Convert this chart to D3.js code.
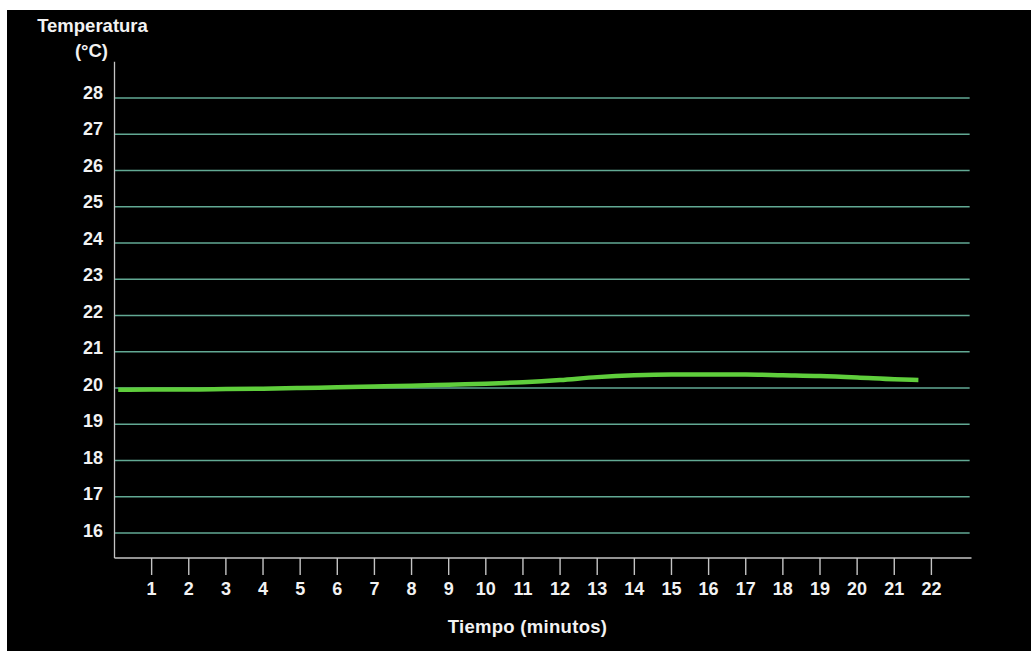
<!DOCTYPE html>
<html>
<head>
<meta charset="utf-8">
<script src="https://cdn.jsdelivr.net/npm/d3@7"></script>
<style>
  html, body { margin: 0; padding: 0; background: #ffffff; }
  svg { display: block; }
  text { font-family: "Liberation Sans", Arial, sans-serif; font-weight: bold; fill: #f2f2f2; }
</style>
</head>
<body>
<svg id="chart" width="1031" height="651"></svg>
<script>
// ---- data ----
const minutes = [0.1, 1, 2, 3, 4, 5, 6, 7, 8, 9, 10, 11, 12, 13, 14, 15, 16, 17, 18, 19, 20, 21, 21.65];
const temperatures = [19.95, 19.96, 19.96, 19.97, 19.98, 20.0, 20.02, 20.04, 20.06, 20.09, 20.12, 20.16, 20.22, 20.3, 20.35, 20.37, 20.37, 20.37, 20.35, 20.33, 20.29, 20.24, 20.22];
const xTickValues = [1, 2, 3, 4, 5, 6, 7, 8, 9, 10, 11, 12, 13, 14, 15, 16, 17, 18, 19, 20, 21, 22];
const yTickValues = [16, 17, 18, 19, 20, 21, 22, 23, 24, 25, 26, 27, 28];
const yTitleLines = ["Temperatura", "(°C)"];
const xTitle = "Tiempo (minutos)";

const svg = d3.select("#chart");

// black panel
svg.append("rect").attr("x", 7).attr("y", 10).attr("width", 1024).attr("height", 641).attr("fill", "#000");

const x = d3.scaleLinear().domain([0, 23.08]).range([114.5, 971.5]);
const y = d3.scaleLinear().domain([16, 28]).range([533, 98]);
// labels sit slightly offset from the gridlines
const yLabel = d3.scaleLinear().domain([16, 28]).range([530, 92]);

const xAxisY = y(15.31);
const yAxisTop = y(29);

// gridlines
svg.append("g").selectAll("line").data(yTickValues).join("line")
  .attr("x1", x(0)).attr("x2", x(23.03))
  .attr("y1", d => y(d)).attr("y2", d => y(d))
  .attr("stroke", "#62a994").attr("stroke-width", 1.6);

// y axis line
svg.append("line")
  .attr("x1", x(0)).attr("x2", x(0))
  .attr("y1", yAxisTop).attr("y2", xAxisY)
  .attr("stroke", "#c4c4c4").attr("stroke-width", 1.3);

// x axis line
svg.append("line")
  .attr("x1", x(0)).attr("x2", x(23.08))
  .attr("y1", xAxisY).attr("y2", xAxisY)
  .attr("stroke", "#c4c4c4").attr("stroke-width", 1.6);

// x ticks
svg.append("g").selectAll("line").data(xTickValues).join("line")
  .attr("x1", d => x(d)).attr("x2", d => x(d))
  .attr("y1", xAxisY).attr("y2", xAxisY + 17)
  .attr("stroke", "#c4c4c4").attr("stroke-width", 1.4);

svg.append("g").selectAll("text").data(xTickValues).join("text")
  .attr("x", d => x(d)).attr("y", 595)
  .attr("text-anchor", "middle")
  .attr("font-size", 18)
  .text(d => d);

// y labels
svg.append("g").selectAll("text").data(yTickValues).join("text")
  .attr("x", 103).attr("y", d => yLabel(d) + 6.5)
  .attr("text-anchor", "end")
  .attr("font-size", 18)
  .text(d => d);

// titles
svg.append("text").attr("x", 92.5).attr("y", 32).attr("text-anchor", "middle")
  .attr("font-size", 18.5).text(yTitleLines[0]);
svg.append("text").attr("x", 91.5).attr("y", 57).attr("text-anchor", "middle")
  .attr("font-size", 18.5).text(yTitleLines[1]);
svg.append("text").attr("x", 527.5).attr("y", 633).attr("text-anchor", "middle")
  .attr("font-size", 18.5).attr("letter-spacing", 0.3).text(xTitle);

// data line
const line = d3.line()
  .x((d, i) => x(minutes[i]))
  .y(d => y(d))
  .curve(d3.curveMonotoneX);

svg.append("path")
  .datum(temperatures)
  .attr("d", line)
  .attr("fill", "none")
  .attr("stroke", "#5fce3c")
  .attr("stroke-width", 4.5);
</script>
</body>
</html>
